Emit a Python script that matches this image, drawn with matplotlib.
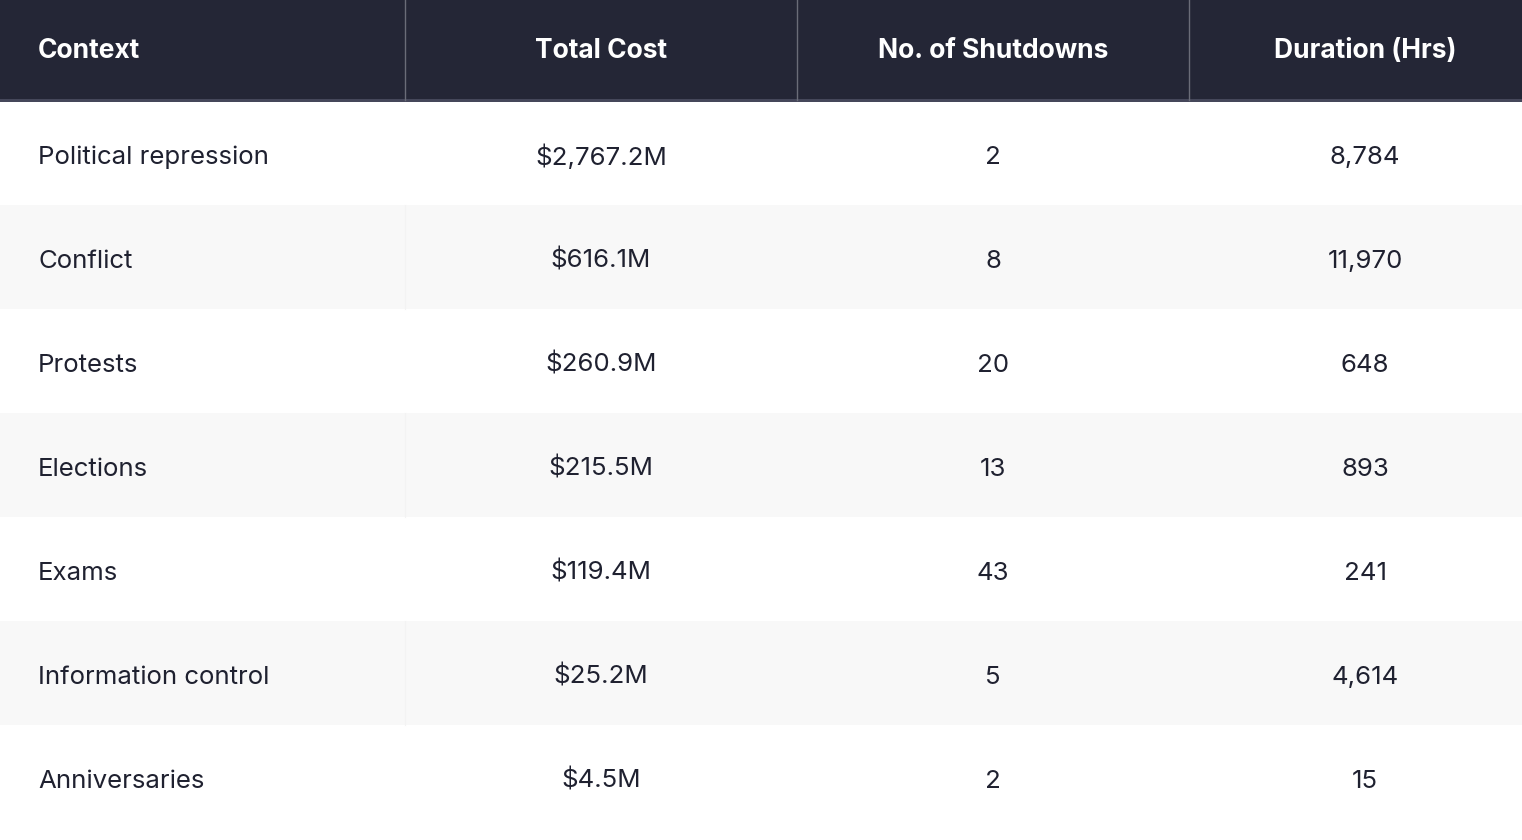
import matplotlib
matplotlib.use("Agg")
import matplotlib.pyplot as plt
from matplotlib.patches import Rectangle

columns = ["Context", "Total Cost", "No. of Shutdowns", "Duration (Hrs)"]
contexts = ["Political repression", "Conflict", "Protests", "Elections", "Exams",
            "Information control", "Anniversaries"]
total_cost = ["$2,767.2M", "$616.1M", "$260.9M", "$215.5M", "$119.4M", "$25.2M", "$4.5M"]
shutdowns = ["2", "8", "20", "13", "43", "5", "2"]
duration = ["8,784", "11,970", "648", "893", "241", "4,614", "15"]

W, H = 1522, 840
HEADER_H = 100
ROW_H = 104
col_edges = [0, 405, 797, 1189, W]
text_x = [38, 601, 993, 1365]
aligns = ["left", "center", "center", "center"]

HEADER_BG = "#242636"
TEXT = "#1f2130"
ALT_BG = "#f8f8f8"
FONT = "Inter"

fig = plt.figure(figsize=(W / 100, H / 100), dpi=100)
ax = fig.add_axes([0, 0, 1, 1])
ax.set_xlim(0, W)
ax.set_ylim(H, 0)
ax.axis("off")

# header
ax.add_patch(Rectangle((0, 0), W, HEADER_H + 1, color=HEADER_BG, lw=0))
ax.plot([0, W], [HEADER_H, HEADER_H], color="#45475a", lw=1.0, antialiased=False)
for xe in col_edges[1:-1]:
    ax.plot([xe, xe], [0, HEADER_H], color="#6a6c78", lw=1.0)
for j, c in enumerate(columns):
    ax.text(text_x[j], HEADER_H / 2 + 1, c, color="white", fontsize=19,
            fontweight="bold", ha=aligns[j], va="center", family=FONT)

rows = list(zip(contexts, total_cost, shutdowns, duration))
for i, row in enumerate(rows):
    y0 = HEADER_H + 1 + i * ROW_H
    if i % 2 == 1:
        ax.add_patch(Rectangle((0, y0), W, ROW_H, color=ALT_BG, lw=0))
        ax.plot([col_edges[1], col_edges[1]], [y0, y0 + ROW_H], color="#f3f3f3", lw=0.8)
    for j, val in enumerate(row):
        ax.text(text_x[j], y0 + ROW_H / 2 + 4, val, color=TEXT, fontsize=18.6,
                ha=aligns[j], va="center", family=FONT)

fig.savefig("out.png", dpi=100, facecolor="white")
